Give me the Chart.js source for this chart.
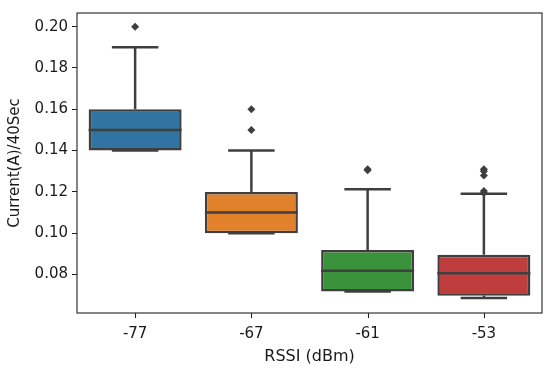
<!DOCTYPE html>
<html>
<head>
<meta charset="utf-8">
<script src="https://cdn.jsdelivr.net/npm/chart.js@4/dist/chart.umd.min.js"></script>
<style>
  html, body { margin: 0; padding: 0; background: #fff; }
  #wrap { width: 550px; height: 369px; }
</style>
</head>
<body>
<div id="wrap"><canvas id="chart"></canvas></div>
<script>
// ---------- data ----------
const categories = ['-77', '-67', '-61', '-53'];
const q1 = [0.14, 0.10, 0.0718, 0.0698];
const medians = [0.15, 0.11, 0.0819, 0.0806];
const q3 = [0.16, 0.12, 0.0919, 0.0896];
const whiskerLow = [0.14, 0.10, 0.0718, 0.0686];
const whiskerHigh = [0.19, 0.14, 0.1213, 0.1191];
const outliers = [
  [0.20],
  [0.15, 0.16],
  [0.1305, 0.131],
  [0.1195, 0.1205, 0.128, 0.13, 0.131]
];
const yTicks = [0.08, 0.10, 0.12, 0.14, 0.16, 0.18, 0.20];
const boxColors = ['#3274a1', '#e1812c', '#3a923a', '#c03d3e'];

const lineColor = '#3f3f3f';
const textColor = '#1a1a1a';
const font = 'DejaVu Sans';

// ---------- whiskers, caps, medians, frame ----------
const boxParts = {
  id: 'boxParts',
  afterDatasetsDraw(chart) {
    const { ctx, scales: { x, y } } = chart;
    const meta = chart.getDatasetMeta(0);
    ctx.save();
    ctx.strokeStyle = lineColor;
    ctx.lineWidth = 2.5;
    ctx.lineCap = 'butt';
    categories.forEach((c, i) => {
      const cx = x.getPixelForValue(i);
      const bw = meta.data[i].width;
      const capHalf = bw * 0.25;
      const line = (x1, y1, x2, y2) => {
        ctx.beginPath(); ctx.moveTo(x1, y1); ctx.lineTo(x2, y2); ctx.stroke();
      };
      // whiskers
      line(cx, y.getPixelForValue(q3[i]), cx, y.getPixelForValue(whiskerHigh[i]));
      line(cx, y.getPixelForValue(q1[i]), cx, y.getPixelForValue(whiskerLow[i]));
      // caps
      line(cx - capHalf, y.getPixelForValue(whiskerHigh[i]), cx + capHalf, y.getPixelForValue(whiskerHigh[i]));
      line(cx - capHalf, y.getPixelForValue(whiskerLow[i]), cx + capHalf, y.getPixelForValue(whiskerLow[i]));
      // median
      line(cx - bw / 2, y.getPixelForValue(medians[i]), cx + bw / 2, y.getPixelForValue(medians[i]));
    });
    ctx.restore();
  },
  afterDraw(chart) {
    const { ctx, chartArea: a, scales: { x } } = chart;
    ctx.save();
    ctx.strokeStyle = '#222';
    ctx.lineWidth = 1.1;
    ctx.strokeRect(a.left, a.top, a.right - a.left, a.bottom - a.top);
    // x tick marks under each category
    categories.forEach((c, i) => {
      const px = Math.round(x.getPixelForValue(i)) + 0.5;
      ctx.beginPath();
      ctx.moveTo(px, a.bottom);
      ctx.lineTo(px, a.bottom + 5);
      ctx.stroke();
    });
    ctx.restore();
  }
};

const outlierPoints = [];
outliers.forEach((vals, i) => vals.forEach(v => outlierPoints.push({ x: categories[i], y: v })));

new Chart(document.getElementById('chart'), {
  type: 'bar',
  data: {
    labels: categories,
    datasets: [
      {
        label: 'box',
        data: categories.map((c, i) => [q1[i], q3[i]]),
        backgroundColor: boxColors,
        borderColor: lineColor,
        borderWidth: 2.5,
        borderSkipped: false,
        barPercentage: 0.8,
        categoryPercentage: 1.0
      },
      {
        type: 'line',
        label: 'outliers',
        data: outlierPoints,
        showLine: false,
        pointStyle: 'rectRot',
        pointRadius: 4,
        pointBackgroundColor: lineColor,
        pointBorderColor: lineColor,
        pointBorderWidth: 0
      }
    ]
  },
  options: {
    responsive: true,
    maintainAspectRatio: false,
    animation: false,
    layout: { padding: { left: 0, right: 8, top: 11, bottom: 0 } },
    plugins: { legend: { display: false }, tooltip: { enabled: false } },
    scales: {
      x: {
        grid: { display: false, drawTicks: true, tickLength: 5 },
        border: { display: false },
        ticks: { color: textColor, font: { family: font, size: 15 }, padding: 7, maxRotation: 0 },
        title: { display: true, text: 'RSSI (dBm)', color: textColor, font: { family: font, size: 16 }, padding: { top: 0, bottom: 3 } },
        afterFit(scale) { scale.height = 56; }
      },
      y: {
        min: 0.0614,
        max: 0.2066,
        grid: { display: true, drawOnChartArea: false, drawTicks: true, tickLength: 5, tickColor: '#222' },
        border: { display: false },
        ticks: {
          color: textColor,
          font: { family: font, size: 15 },
          padding: 4,
          callback: v => v.toFixed(2)
        },
        afterBuildTicks(scale) { scale.ticks = yTicks.map(v => ({ value: v })); },
        title: { display: true, text: 'Current(A)/40Sec', color: textColor, font: { family: font, size: 15 }, padding: { top: 6, bottom: 4 } },
        afterFit(scale) { scale.width = 77; }
      }
    }
  },
  plugins: [boxParts]
});
</script>
</body>
</html>
